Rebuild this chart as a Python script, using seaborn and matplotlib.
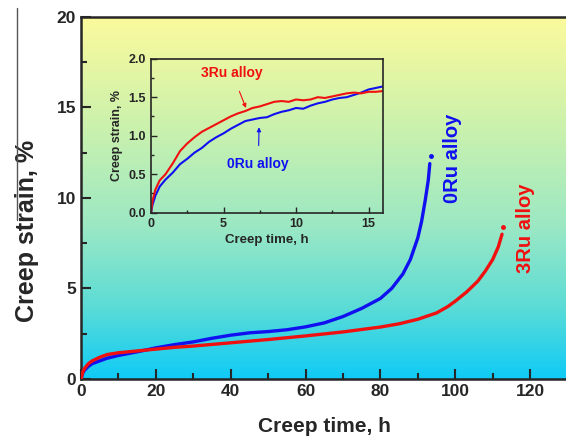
import numpy as np
import pandas as pd
import matplotlib
matplotlib.use('Agg')
import matplotlib.pyplot as plt
import seaborn as sns
from matplotlib.colors import LinearSegmentedColormap
from matplotlib.lines import Line2D
from matplotlib.ticker import MultipleLocator

# main creep curves
t_0ru = [0, 0.5, 1, 2, 3, 5, 7, 10, 15, 20, 25, 30, 35, 40, 45, 50, 55, 60,
         65, 70, 75, 80, 83, 86, 88, 90, 91, 92, 92.8, 93.2]
e_0ru = [0, 0.35, 0.5, 0.7, 0.85, 1.0, 1.15, 1.3, 1.5, 1.72, 1.9, 2.05, 2.25,
         2.42, 2.55, 2.62, 2.72, 2.88, 3.1, 3.45, 3.9, 4.45, 5.0, 5.8, 6.6,
         7.8, 8.7, 9.9, 11.0, 11.9]
t_3ru = [0, 0.5, 1, 2, 3, 5, 7, 10, 15, 20, 25, 30, 40, 50, 60, 70, 80, 85,
         90, 95, 98, 100, 103, 106, 108, 110, 111.5, 112.5]
e_3ru = [0, 0.4, 0.6, 0.85, 1.0, 1.2, 1.35, 1.45, 1.55, 1.65, 1.75, 1.82, 2.0,
         2.18, 2.38, 2.6, 2.87, 3.05, 3.3, 3.65, 4.0, 4.3, 4.8, 5.4, 5.95,
         6.6, 7.3, 8.0]
end_0ru = (93.4, 12.3)
end_3ru = (112.8, 8.4)

# inset, first 16 h
t_in = [0, 0.1, 0.3, 0.6, 1, 1.5, 2, 2.5, 3, 3.5, 4, 4.5, 5, 5.5, 6, 6.5, 7,
        7.5, 8, 8.5, 9, 9.5, 10, 10.5, 11, 11.5, 12, 12.5, 13, 13.5, 14, 14.5,
        15, 15.5, 16]
e_in_3ru = [0, 0.15, 0.3, 0.42, 0.5, 0.64, 0.8, 0.9, 0.98, 1.05, 1.1, 1.15,
            1.2, 1.25, 1.29, 1.32, 1.36, 1.38, 1.41, 1.44, 1.45, 1.44, 1.47,
            1.46, 1.47, 1.5, 1.49, 1.51, 1.53, 1.55, 1.56, 1.55, 1.57, 1.57,
            1.58]
e_in_0ru = [0, 0.1, 0.22, 0.34, 0.43, 0.52, 0.63, 0.7, 0.78, 0.84, 0.92, 0.98,
            1.03, 1.09, 1.14, 1.19, 1.21, 1.23, 1.24, 1.28, 1.31, 1.33, 1.36,
            1.35, 1.39, 1.42, 1.44, 1.47, 1.49, 1.5, 1.53, 1.56, 1.6, 1.62,
            1.64]

blue = '#1010f0'
red = '#f01010'

sns.set_style('ticks')
plt.rcParams['font.family'] = ['Liberation Sans', 'DejaVu Sans']
plt.rcParams['font.weight'] = 'bold'

fig = plt.figure(figsize=(5.66, 4.41), dpi=100)
ax = fig.add_axes([0.1431, 0.1406, 0.8596, 0.8209])

# gradient background
cmap = LinearSegmentedColormap.from_list(
    'bg', [(0, '#0fcbf6'), (0.2, '#5cdcd6'), (0.42, '#9be8c4'),
           (0.68, '#c8f1ae'), (1, '#fcfa9c')])
grad = np.linspace(0, 1, 256).reshape(-1, 1)
ax.imshow(grad, cmap=cmap, origin='lower', extent=[0, 130, 0, 20],
          aspect='auto', zorder=0)

df_main = pd.concat([
    pd.DataFrame({'t': t_0ru, 'e': e_0ru, 'alloy': '0Ru'}),
    pd.DataFrame({'t': t_3ru, 'e': e_3ru, 'alloy': '3Ru'}),
])
sns.lineplot(data=df_main, x='t', y='e', hue='alloy', estimator=None,
             sort=False, palette={'0Ru': blue, '3Ru': red}, linewidth=2.4,
             legend=False, ax=ax, zorder=3)
ax.plot(*end_0ru, 'o', color=blue, ms=2.5, zorder=3)
ax.plot(*end_3ru, 'o', color=red, ms=2.5, zorder=3)

ax.set_xlim(0, 130)
ax.set_ylim(0, 20)
ax.xaxis.set_major_locator(MultipleLocator(20))
ax.xaxis.set_minor_locator(MultipleLocator(10))
ax.yaxis.set_major_locator(MultipleLocator(5))
ax.yaxis.set_minor_locator(MultipleLocator(2.5))
ax.tick_params(which='both', direction='in', width=1.5, labelsize=12.5)
ax.tick_params(which='major', length=7)
ax.tick_params(which='minor', length=4)
for s in ax.spines.values():
    s.set_linewidth(1.8)
ax.set_xlabel('Creep time, h', fontsize=15, fontweight='bold', labelpad=13)
ax.set_ylabel('Creep strain, %', fontsize=18, fontweight='bold')
ax.yaxis.set_label_coords(-0.086, 0.41)

ax.text(99.2, 12.2, '0Ru alloy', color=blue, rotation=90, fontsize=14.5,
        fontweight='bold', ha='center', va='center')
ax.text(118.7, 8.34, '3Ru alloy', color=red, rotation=90, fontsize=14.5,
        fontweight='bold', ha='center', va='center')

# inset
axi = fig.add_axes([0.2668, 0.5177, 0.4099, 0.3492])
axi.patch.set_alpha(0)
df_in = pd.concat([
    pd.DataFrame({'t': t_in, 'e': e_in_0ru, 'alloy': '0Ru'}),
    pd.DataFrame({'t': t_in, 'e': e_in_3ru, 'alloy': '3Ru'}),
])
sns.lineplot(data=df_in, x='t', y='e', hue='alloy', estimator=None,
             sort=False, palette={'0Ru': blue, '3Ru': red}, linewidth=1.5,
             legend=False, ax=axi)
axi.set_xlim(0, 16)
axi.set_ylim(0, 2.0)
axi.xaxis.set_major_locator(MultipleLocator(5))
axi.xaxis.set_minor_locator(MultipleLocator(2.5))
axi.yaxis.set_major_locator(MultipleLocator(0.5))
axi.yaxis.set_minor_locator(MultipleLocator(0.25))
axi.tick_params(which='both', direction='in', width=1.0, labelsize=9)
axi.tick_params(which='major', length=4)
axi.tick_params(which='minor', length=2.5)
for s in axi.spines.values():
    s.set_linewidth(1.2)
axi.set_xlabel('Creep time, h', fontsize=9.5, fontweight='bold', labelpad=3)
axi.set_ylabel('Creep strain, %', fontsize=9, fontweight='bold', labelpad=4)
axi.annotate('3Ru alloy', xy=(6.55, 1.36), xytext=(5.6, 1.81), color=red,
             fontsize=10, fontweight='bold', ha='center', va='center',
             arrowprops=dict(arrowstyle='-|>', color=red, lw=0.8,
                             mutation_scale=6, shrinkA=6, shrinkB=0))
axi.annotate('0Ru alloy', xy=(7.45, 1.11), xytext=(7.4, 0.63), color=blue,
             fontsize=10, fontweight='bold', ha='center', va='center',
             arrowprops=dict(arrowstyle='-|>', color=blue, lw=0.8,
                             mutation_scale=6, shrinkA=6, shrinkB=0))

# thin stray rule left of the y label, as in the source image
fig.add_artist(Line2D([17 / 566, 17 / 566], [1 - 8 / 441, 1 - 220 / 441],
                      color='#555555', lw=1.0))

fig.savefig('out.png', dpi=100)
